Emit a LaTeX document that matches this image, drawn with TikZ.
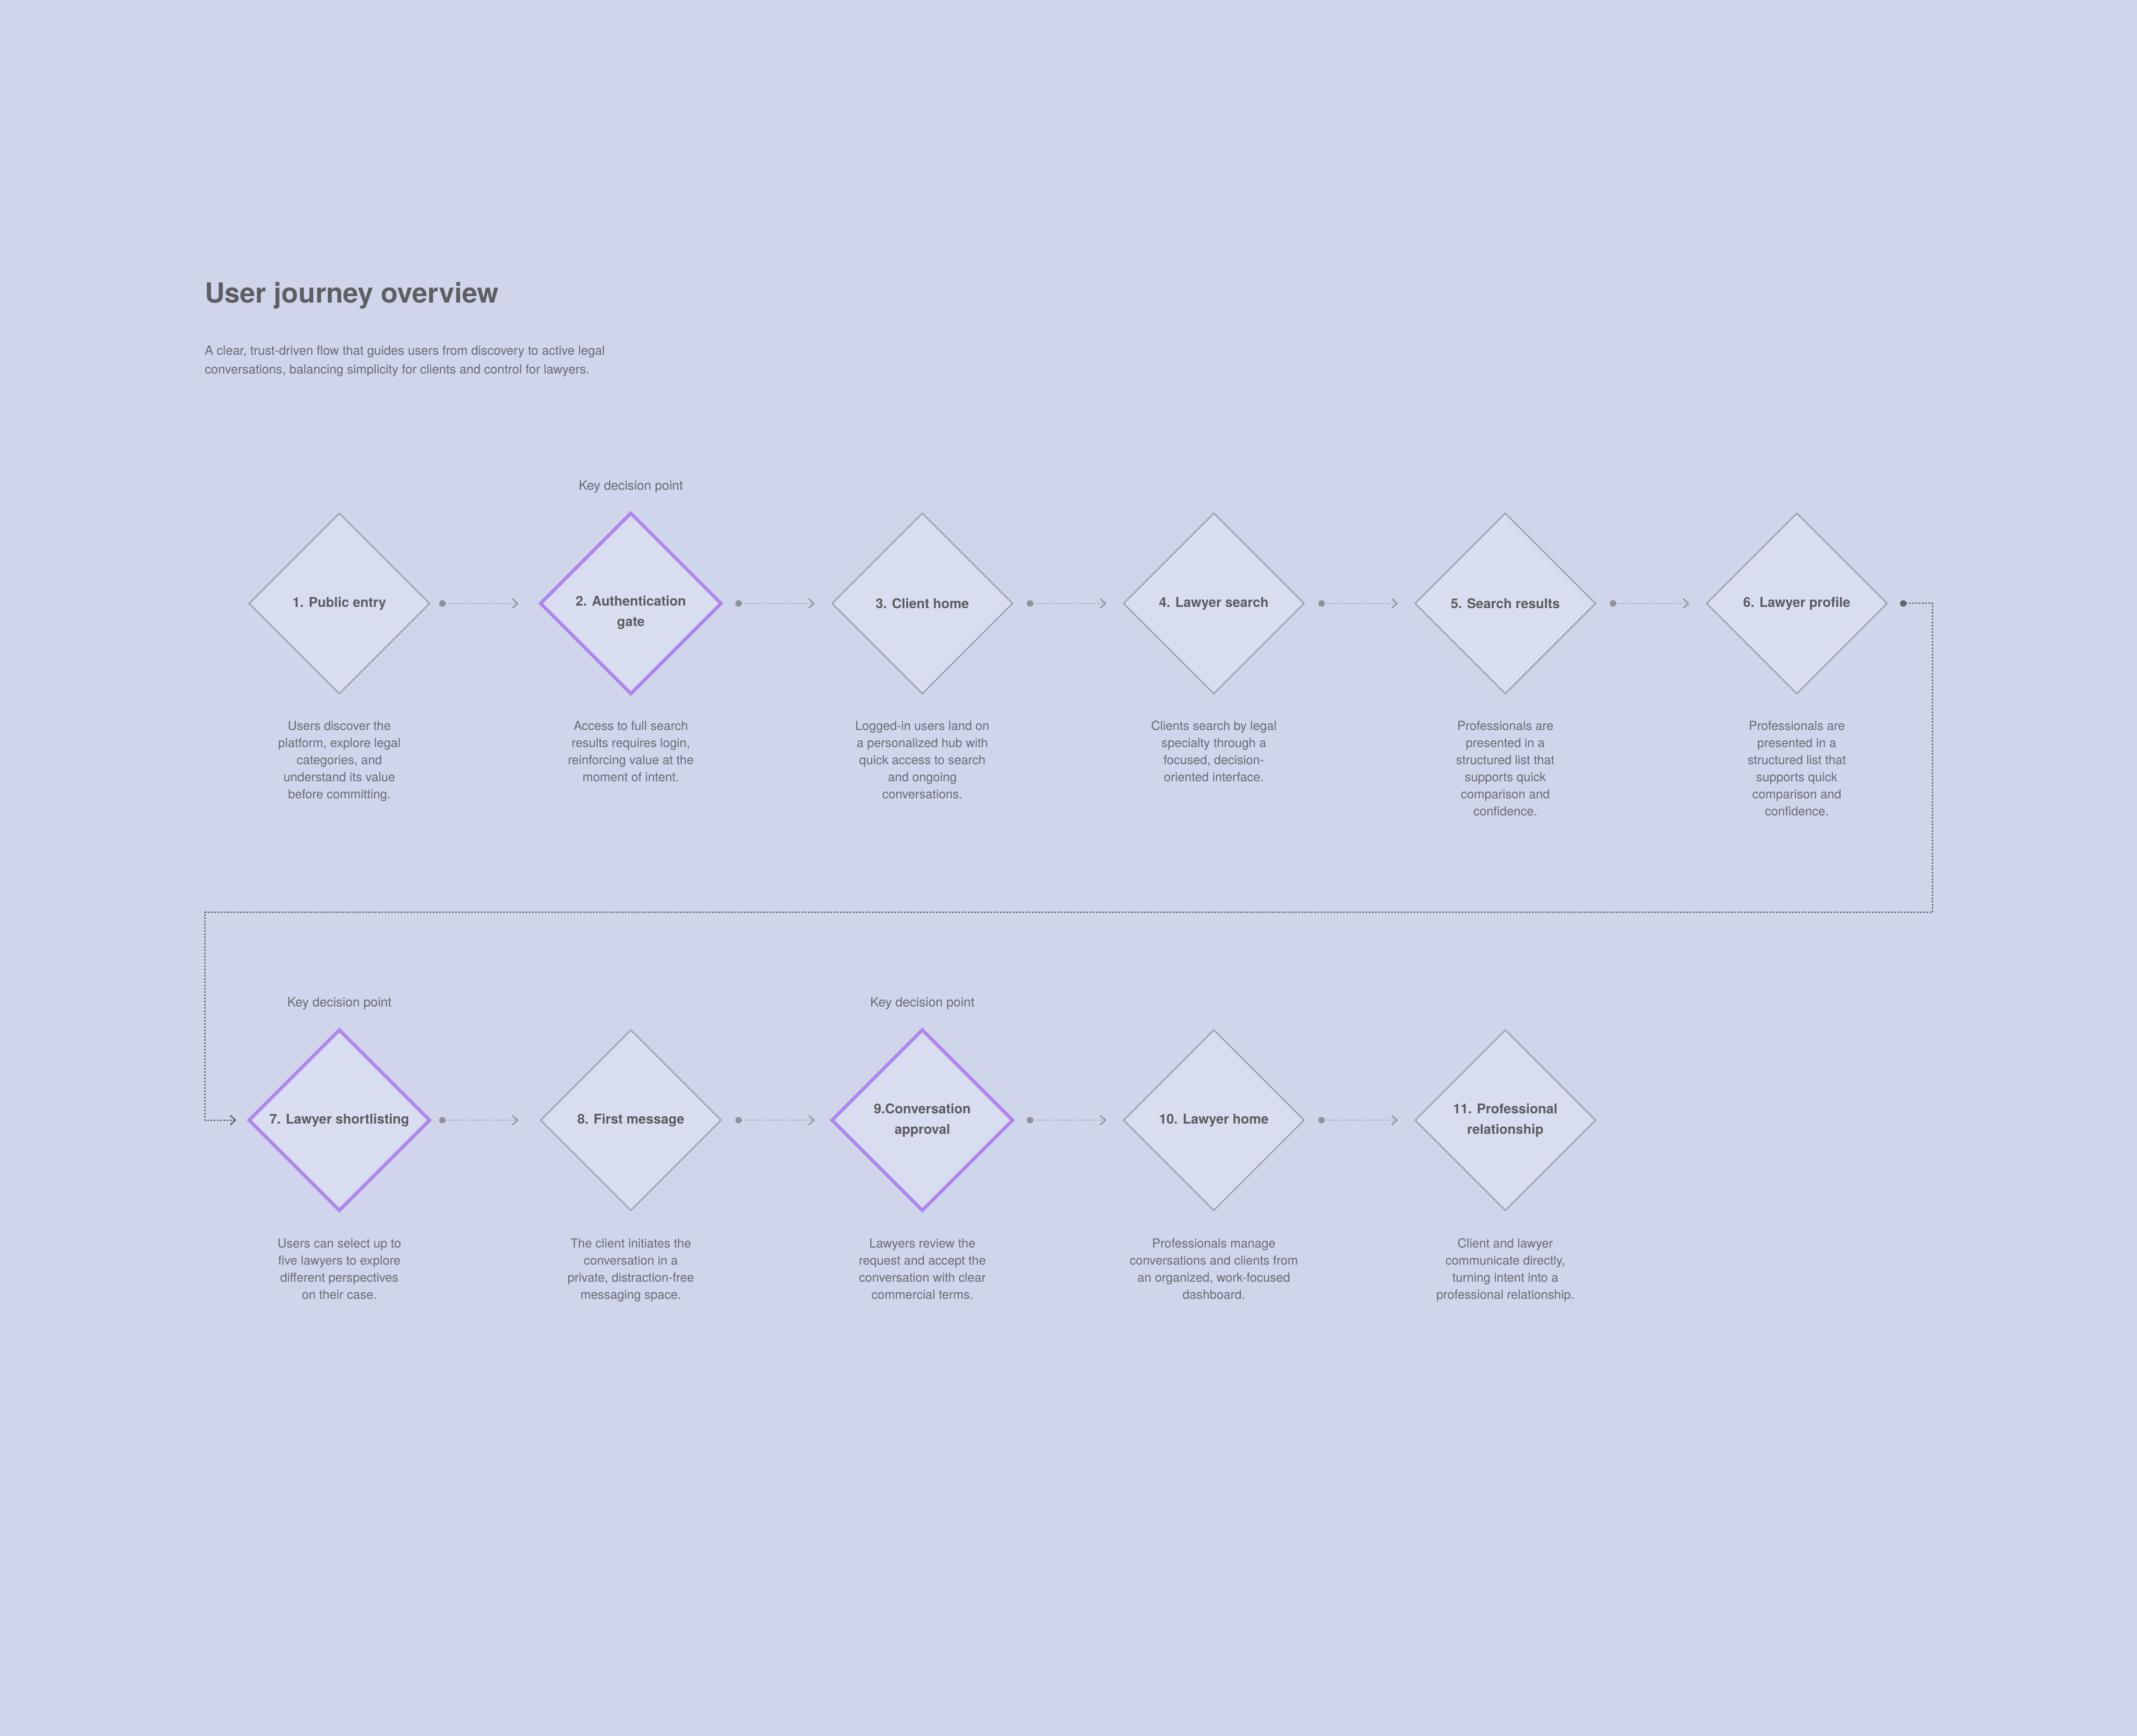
\documentclass[tikz,border=0pt]{standalone}
\usepackage{fontspec}
\setmainfont{TeX Gyre Heros}
\usepackage{tikz}
\usetikzlibrary{arrows.meta, shapes.geometric, positioning, calc}
\usepackage{xcolor}
\definecolor{bgcol}{HTML}{CFD5EB}
\definecolor{stagefill}{HTML}{D9DDF0}
\definecolor{stageline}{HTML}{9C9EAA}
\definecolor{keyline}{HTML}{AF85EE}
\definecolor{labeltext}{HTML}{5B5B60}
\definecolor{notetext}{HTML}{6A6A70}
\definecolor{titletext}{HTML}{5E5E62}
\definecolor{flowline}{HTML}{909099}
\definecolor{loopline}{HTML}{636469}

\begin{document}
\begin{tikzpicture}[
		stage/.style={diamond, draw=stageline, fill=stagefill, line width=0.6pt, minimum width=84.4pt, minimum height=84.4pt, inner sep=0pt, outer sep=0pt, align=center, text=labeltext, font=\bfseries\fontsize{6.3}{9.6}\selectfont},
		keystage/.style={stage, draw=keyline, line width=1.6pt},
		note/.style={anchor=north, align=center, inner sep=0pt, text=notetext, font=\fontsize{5.85}{8}\selectfont},
		keylabel/.style={anchor=base, inner sep=0pt, text=notetext, font=\fontsize{6.05}{7}\selectfont},
		flow/.style={draw=flowline, line width=0.5pt, dash pattern=on 0.5pt off 1.1pt, {Circle[length=3pt]}-{Straight Barb[length=2.4pt, width=4.4pt, line width=0.6pt]}, shorten <=6.7pt, shorten >=8.1pt},
		lead/.style={flow, shorten <=4.5pt, shorten >=10.4pt},
		loopback/.style={draw=loopline, line width=0.6pt, dash pattern=on 0.8pt off 0.7pt, {Circle[length=3pt]}-{Straight Barb[length=2.4pt, width=4.4pt, line width=0.6pt]}, shorten <=6.1pt, shorten >=6pt},
	]
		\fill[bgcol] (-158.8pt,282.4pt) rectangle (841.2pt,-530pt);

		%Nodes
		\node (title) [anchor=base west, inner sep=0pt, text=titletext, font=\bfseries\fontsize{12.95}{15}\selectfont] at (-63.2pt,140.6pt) {User journey overview};
		\node (intro) [
			anchor=north west,
			align=left,
			inner sep=0pt,
			text=notetext,
			font=\fontsize{5.92}{8.8}\selectfont
			] at ($(title.base west) + (0, -18.04pt)$) {\strut A clear, trust-driven flow that guides users from discovery to active legal\\conversations, balancing simplicity for clients and control for lawyers.};

		\node (s1) [stage] {1. Public entry};
		\node (s2) [keystage, right=52pt of s1] {\phantom{g}\\2. Authentication\\gate};
		\node (s3) [stage, right=52pt of s2] {3. Client home};
		\node (s4) [stage, right=52pt of s3] {4. Lawyer search};
		\node (s5) [stage, right=52pt of s4] {5. Search results};
		\node (s6) [stage, right=52pt of s5] {6. Lawyer profile};

		\node (s7) [keystage, below=157.4pt of s1] {7. Lawyer shortlisting};
		\node (s8) [stage, right=52pt of s7] {8. First message};
		\node (s9) [keystage, right=52pt of s8] {9.Conversation\\approval};
		\node (s10) [stage, right=52pt of s9] {10. Lawyer home};
		\node (s11) [stage, right=52pt of s10] {11. Professional\\relationship};

		\node (k2) [keylabel] at ($(s2) + (0, 53pt)$) {Key decision point};
		\node (k7) [keylabel] at ($(s7) + (0, 53pt)$) {Key decision point};
		\node (k9) [keylabel] at ($(s9) + (0, 53pt)$) {Key decision point};

		\node (d1) [note] at ($(s1) + (0, -53.6pt)$) {\strut Users discover the\\platform, explore legal\\categories, and\\understand its value\\before committing.};
		\node (d2) [note] at ($(s2) + (0, -53.6pt)$) {\strut Access to full search\\results requires login,\\reinforcing value at the\\moment of intent.};
		\node (d3) [note] at ($(s3) + (0, -53.6pt)$) {\strut Logged-in users land on\\a personalized hub with\\quick access to search\\and ongoing\\conversations.};
		\node (d4) [note] at ($(s4) + (0, -53.6pt)$) {\strut Clients search by legal\\specialty through a\\focused, decision-\\oriented interface.};
		\node (d5) [note] at ($(s5) + (0, -53.6pt)$) {\strut Professionals are\\presented in a\\structured list that\\supports quick\\comparison and\\confidence.};
		\node (d6) [note] at ($(s6) + (0, -53.6pt)$) {\strut Professionals are\\presented in a\\structured list that\\supports quick\\comparison and\\confidence.};
		\node (d7) [note] at ($(s7) + (0, -53.8pt)$) {\strut Users can select up to\\five lawyers to explore\\different perspectives\\on their case.};
		\node (d8) [note] at ($(s8) + (0, -53.8pt)$) {\strut The client initiates the\\conversation in a\\private, distraction-free\\messaging space.};
		\node (d9) [note] at ($(s9) + (0, -53.8pt)$) {\strut Lawyers review the\\request and accept the\\conversation with clear\\commercial terms.};
		\node (d10) [note] at ($(s10) + (0, -53.8pt)$) {\strut Professionals manage\\conversations and clients from\\an organized, work-focused\\dashboard.};
		\node (d11) [note] at ($(s11) + (0, -53.8pt)$) {\strut Client and lawyer\\communicate directly,\\turning intent into a\\professional relationship.};

		\coordinate (turnleft) at ($(s1) + (-62.8pt, -144.6pt)$);

		%Lines
		\draw[lead] (s1.east) -- (s2.west);
		\draw[flow] (s2.east) -- (s3.west);
		\draw[flow] (s3.east) -- (s4.west);
		\draw[flow] (s4.east) -- (s5.west);
		\draw[flow] (s5.east) -- (s6.west);

		\draw[loopback] (s6.east) -- ++(21.2pt, 0) |- (turnleft) |- (s7.west);

		\draw[lead] (s7.east) -- (s8.west);
		\draw[flow] (s8.east) -- (s9.west);
		\draw[flow] (s9.east) -- (s10.west);
		\draw[flow] (s10.east) -- (s11.west);
	\end{tikzpicture}
\end{document}
